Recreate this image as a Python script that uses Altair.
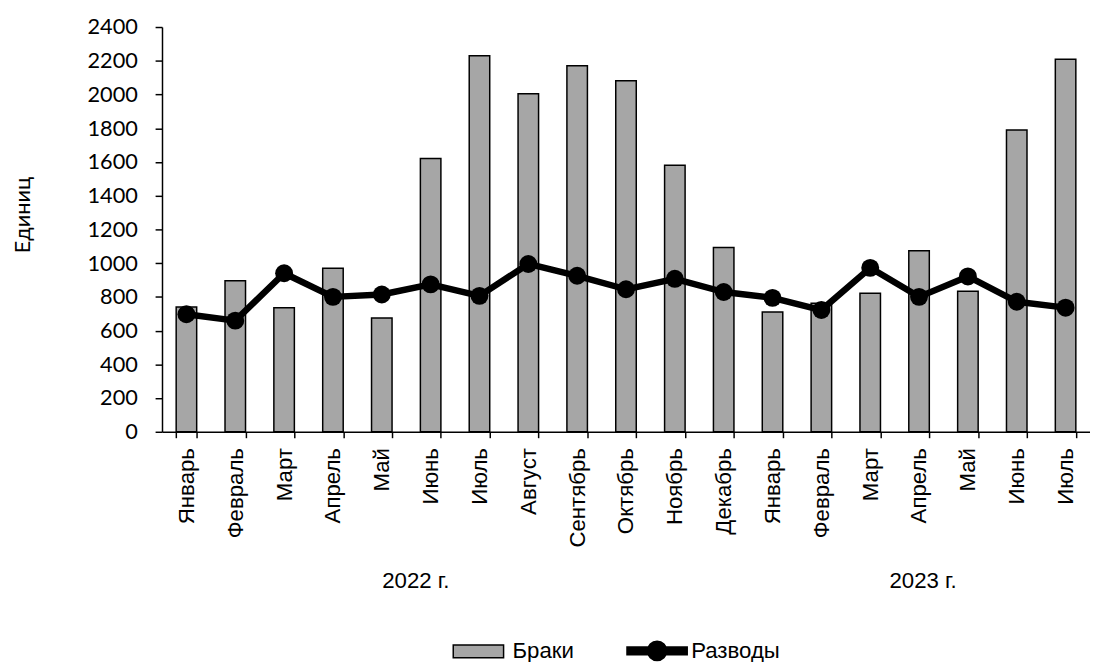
import altair as alt
import pandas as pd

months = ["Январь", "Февраль", "Март", "Апрель", "Май", "Июнь", "Июль", "Август",
          "Сентябрь", "Октябрь", "Ноябрь", "Декабрь",
          "Январь", "Февраль", "Март", "Апрель", "Май", "Июнь", "Июль"]
years = [2022] * 12 + [2023] * 7
marriages = [740, 895, 735, 970, 675, 1620, 2230, 2005, 2170, 2082, 1580, 1093,
             710, 762, 821, 1073, 833, 1789, 2209]
divorces = [697, 659, 940, 800, 814, 874, 806, 995, 925, 845, 907, 829,
            794, 722, 972, 800, 921, 771, 736]
year_labels = ["2022 г.", "2023 г."]
year_anchor = ["Июнь 2022", "Апрель 2023"]
series = ["Браки", "Разводы"]
y_ticks = list(range(0, 2401, 200))

keys = [f"{m} {y}" for m, y in zip(months, years)]
df = pd.DataFrame({"key": keys, "marriages": marriages, "divorces": divorces})

W, H = 940, 410
ARIAL = "Liberation Sans, Arial"
CAL = "Lato"

x_scale = alt.Scale(domain=keys, paddingInner=0.58, paddingOuter=0.29)
y_scale = alt.Scale(domain=[0, 2400], nice=False)

x_axis = alt.Axis(title=None, labelAngle=-90, labelExpr="split(datum.label, ' ')[0]",
                  labelFont=ARIAL, labelFontSize=22.5, labelColor="black", labelPadding=10,
                  tickBand="extent", tickSize=6, tickColor="black", tickWidth=1.5,
                  domainColor="black", domainWidth=1.5, labelOverlap=False)
y_axis = alt.Axis(title="Единиц", values=y_ticks, format="d", grid=False,
                  labelOverlap=False,
                  labelFont=CAL, labelFontSize=22, labelColor="black", labelPadding=18,
                  tickSize=7, tickColor="black", tickWidth=1.5,
                  domainColor="black", domainWidth=1.5,
                  titleFont=CAL, titleFontSize=22, titleFontWeight="normal",
                  titleColor="black", titlePadding=53, titleY=190)

X = alt.X("key:N", scale=x_scale, axis=x_axis)

base = alt.Chart(df)
bars = base.mark_bar(fill="#A6A6A6", stroke="black", strokeWidth=1.5).encode(
    x=X,
    y=alt.Y("marriages:Q", scale=y_scale, axis=y_axis),
)
line = base.mark_line(color="black", strokeWidth=6.5, strokeJoin="round").encode(
    x=X,
    y=alt.Y("divorces:Q", scale=y_scale, axis=y_axis),
)
points = base.mark_circle(size=330, color="black", opacity=1).encode(
    x=X,
    y=alt.Y("divorces:Q", scale=y_scale, axis=y_axis),
)

def year_layer(i, dx):
    d = pd.DataFrame({"label": [year_labels[i]], "key": [year_anchor[i]]})
    return alt.Chart(d).mark_text(font=ARIAL, fontSize=22.5, color="black",
                                  align="center", baseline="middle", dx=dx).encode(
        x=X,
        y=alt.value(561),
        text="label:N",
    )

rect_path = "M-0.836,-0.213H0.836V0.213H-0.836Z"
line_path = ("M-1,-0.13H1V0.13H-1Z "
             "M-0.32,0A0.32,0.32 0 1,1 0.32,0A0.32,0.32 0 1,1 -0.32,0Z")

legend = alt.Legend(title=None, orient="none", legendX=289, legendY=600,
                    direction="horizontal", labelFont=ARIAL, labelFontSize=22.5,
                    labelColor="black", labelOffset=3, columnPadding=50,
                    symbolSize=3721, symbolStrokeColor="black", symbolStrokeWidth=1.5)

legend_layer = alt.Chart(pd.DataFrame({"series": series})).mark_point(
    filled=True, strokeWidth=1.5, size=3721, opacity=1
).encode(
    fill=alt.Fill("series:N", scale=alt.Scale(domain=series, range=["#A6A6A6", "black"]),
                  legend=legend),
    stroke=alt.Stroke("series:N", scale=alt.Scale(domain=series, range=["black", "black"]),
                      legend=legend),
    shape=alt.Shape("series:N", scale=alt.Scale(domain=series, range=[rect_path, line_path]),
                    legend=legend),
).transform_filter("false")

chart = alt.layer(bars, line, points, year_layer(0, -15), year_layer(1, 4), legend_layer).properties(
    width=W, height=H,
    padding={"left": 3, "top": 4, "right": 0, "bottom": 0},
    background="white",
).configure_view(stroke=None)

chart.save("out.html", embed_options={"renderer": "svg", "actions": False})
